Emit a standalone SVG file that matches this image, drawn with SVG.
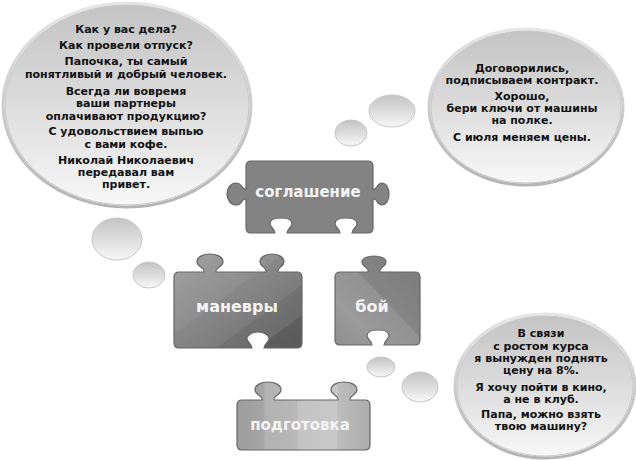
<svg xmlns="http://www.w3.org/2000/svg" width="636" height="460" viewBox="0 0 636 460">
<defs>
<linearGradient id="bub" x1="0" y1="0" x2="0" y2="1">
<stop offset="0" stop-color="#c4c4c4"/>
<stop offset="0.45" stop-color="#dadada"/>
<stop offset="0.8" stop-color="#ededed"/>
<stop offset="1" stop-color="#f8f8f8"/>
</linearGradient>
<linearGradient id="rim" x1="0" y1="0" x2="0" y2="1">
<stop offset="0" stop-color="#e6e6e6"/>
<stop offset="1" stop-color="#b4b4b4"/>
</linearGradient>
<linearGradient id="gMan" x1="0" y1="0" x2="1" y2="1">
<stop offset="0" stop-color="#a2a2a2"/>
<stop offset="0.42" stop-color="#8e8e8e"/>
<stop offset="0.43" stop-color="#888888"/>
<stop offset="0.66" stop-color="#7c7c7c"/>
<stop offset="0.67" stop-color="#727272"/>
<stop offset="0.82" stop-color="#6c6c6c"/>
<stop offset="0.83" stop-color="#5e5e5e"/>
<stop offset="1" stop-color="#585858"/>
</linearGradient>
<linearGradient id="gBoi" x1="1" y1="0" x2="0" y2="1">
<stop offset="0" stop-color="#7a7a7a"/>
<stop offset="0.45" stop-color="#858585"/>
<stop offset="0.46" stop-color="#929292"/>
<stop offset="0.75" stop-color="#9a9a9a"/>
<stop offset="1" stop-color="#8e8e8e"/>
</linearGradient>
<linearGradient id="gPod" x1="0" y1="0" x2="1" y2="0">
<stop offset="0" stop-color="#9c9c9c"/>
<stop offset="0.2" stop-color="#a6a6a6"/>
<stop offset="0.21" stop-color="#b2b2b2"/>
<stop offset="0.45" stop-color="#b8b8b8"/>
<stop offset="0.46" stop-color="#c4c4c4"/>
<stop offset="0.75" stop-color="#c8c8c8"/>
<stop offset="0.76" stop-color="#bdbdbd"/>
<stop offset="1" stop-color="#acacac"/>
</linearGradient>
</defs>
<style>
.rim{fill:none;stroke:url(#rim);stroke-width:3}
.bub{fill:url(#bub);stroke:#c6c6c6;stroke-width:1}
.bt{font-family:"DejaVu Sans",Verdana,sans-serif;font-weight:bold;font-size:11px;fill:#111;text-anchor:middle}
.pc{stroke:#666;stroke-width:1.2}
.pt{font-family:"DejaVu Sans",Verdana,sans-serif;font-weight:bold;font-size:15px;fill:#f4f4f4;text-anchor:middle}
</style>
<rect width="636" height="460" fill="#fff"/>

<g id="connectors">
<ellipse class="bub" cx="117" cy="239" rx="25" ry="21"/>
<ellipse class="bub" cx="149" cy="275" rx="16" ry="13"/>
<ellipse class="bub" cx="392" cy="111" rx="23" ry="16"/>
<ellipse class="bub" cx="351" cy="133" rx="16" ry="13"/>
<ellipse class="bub" cx="381" cy="367" rx="14" ry="10"/>
<ellipse class="bub" cx="420" cy="387" rx="18" ry="15"/>
</g>

<g id="bubble-left">
<ellipse class="rim" cx="127" cy="105" rx="124" ry="102"/>
<ellipse class="bub" cx="127" cy="105" rx="122" ry="100"/>
<text class="bt" x="126" y="33">Как у вас дела?</text>
<text class="bt" x="126" y="49">Как провели отпуск?</text>
<text class="bt" x="126" y="65">Папочка, ты самый</text>
<text class="bt" x="126" y="78">понятливый и добрый человек.</text>
<text class="bt" x="126" y="95">Всегда ли вовремя</text>
<text class="bt" x="126" y="107">ваши партнеры</text>
<text class="bt" x="126" y="120">оплачивают продукцию?</text>
<text class="bt" x="126" y="135">С удовольствием выпью</text>
<text class="bt" x="126" y="148">с вами кофе.</text>
<text class="bt" x="126" y="164">Николай Николаевич</text>
<text class="bt" x="126" y="176">передавал вам</text>
<text class="bt" x="126" y="188">привет.</text>
</g>

<g id="bubble-right-top">
<ellipse class="rim" cx="526" cy="107" rx="97" ry="78"/>
<ellipse class="bub" cx="526" cy="107" rx="95" ry="76"/>
<text class="bt" x="522" y="72">Договорились,</text>
<text class="bt" x="522" y="84">подписываем контракт.</text>
<text class="bt" x="522" y="100">Хорошо,</text>
<text class="bt" x="522" y="112">бери ключи от машины</text>
<text class="bt" x="522" y="124">на полке.</text>
<text class="bt" x="522" y="141">С июля меняем цены.</text>
</g>

<g id="bubble-right-bottom">
<ellipse class="rim" cx="545" cy="386" rx="90" ry="72"/>
<ellipse class="bub" cx="545" cy="386" rx="88" ry="70"/>
<text class="bt" x="541" y="337">В связи</text>
<text class="bt" x="541" y="350">с ростом курса</text>
<text class="bt" x="541" y="362">я вынужден поднять</text>
<text class="bt" x="541" y="374">цену на 8%.</text>
<text class="bt" x="541" y="391">Я хочу пойти в кино,</text>
<text class="bt" x="541" y="403">а не в клуб.</text>
<text class="bt" x="541" y="418">Папа, можно взять</text>
<text class="bt" x="541" y="430">твою машину?</text>
</g>

<g id="soglashenie">
<path class="pc" fill="#838383" d="M251,161 H368 Q373,161 373,166 V189 C378,190 376,183 382,183 C386,183 389,188 389,194 C389,200 386,205 382,205 C376,205 378,198 373,199 V228 Q373,233 368,233 H352 C353,228 357,227 357,224 C357,220 352,218 346,218 C340,218 335,220 335,224 C335,227 339,228 340,233 H287 C288,228 292,227 292,224 C292,220 287,218 281,218 C275,218 270,220 270,224 C270,227 274,228 275,233 H251 Q246,233 246,228 V199 C241,198 243,205 236,205 C231,205 227,200 227,194 C227,188 231,183 236,183 C243,183 241,190 246,189 V166 Q246,161 251,161 Z"/>
<text class="pt" x="308" y="197">соглашение</text>
</g>

<g id="manevry">
<path class="pc" fill="url(#gMan)" d="M179,272 H204 C205,267 197,267 197,262 C197,257 203,254 210,254 C217,254 223,257 223,262 C223,267 215,267 216,272 H266 C267,267 260,267 260,262 C260,257 266,254 272,254 C278,254 284,257 284,262 C284,267 277,267 278,272 H297 Q302,272 302,277 V343 Q302,348 297,348 H264 C265,343 269,342 269,339 C269,335 264,332 258,332 C252,332 247,335 247,339 C247,342 251,343 252,348 H179 Q174,348 174,343 V277 Q174,272 179,272 Z"/>
<text class="pt" x="237" y="312" style="font-size:16px">маневры</text>
</g>

<g id="boi">
<path class="pc" fill="url(#gBoi)" d="M340,272 H368 C369,267 362,267 362,262 C362,258 368,256 374,256 C380,256 386,258 386,262 C386,267 379,267 380,272 H415 Q420,272 420,277 V340 Q420,345 415,345 H384 C385,340 389,339 389,336 C389,332 384,330 378,330 C372,330 367,332 367,336 C367,339 371,340 372,345 H340 Q335,345 335,340 V277 Q335,272 340,272 Z"/>
<text class="pt" x="372" y="312" style="font-size:16px">бой</text>
</g>

<g id="podgotovka">
<path class="pc" fill="url(#gPod)" stroke="#888" d="M242,400 H262 C263,395 255,395 255,390 C255,385 261,382 268,382 C275,382 281,385 281,390 C281,395 273,395 274,400 H338 C339,395 331,395 331,390 C331,385 337,382 344,382 C351,382 357,385 357,390 C357,395 349,395 350,400 H365 Q370,400 370,405 V445 Q370,450 365,450 H242 Q237,450 237,445 V405 Q237,400 242,400 Z"/>
<text class="pt" x="300" y="430">подготовка</text>
</g>
</svg>
